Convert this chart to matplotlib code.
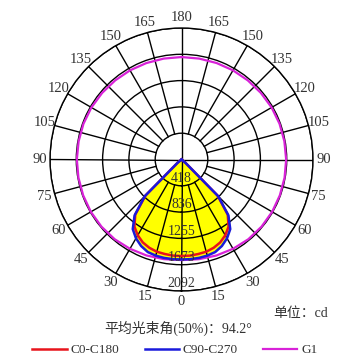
import matplotlib
import matplotlib.pyplot as plt
import numpy as np

matplotlib.use("agg")
plt.rcParams["font.family"] = ["Liberation Serif", "Noto Sans CJK SC"]

# luminous intensity (cd) per gamma angle, symmetric on both halves
gamma_deg = [0, 5, 10, 15, 20, 25, 30, 35, 40, 45, 50, 55, 60, 70, 80, 90]
c0_c180 = [1535, 1535, 1527, 1519, 1495, 1456, 1392, 1305, 1145, 811, 80, 0, 0, 0, 0, 0]
c90_c270 = [1591, 1591, 1590, 1583, 1567, 1519, 1448, 1352, 1161, 827, 80, 0, 0, 0, 0, 0]

g1_gamma = [0, 10, 20, 30, 40, 50, 60, 70, 80, 90, 100, 110, 120, 130, 140, 150, 160, 170, 180]
g1_values = [1600, 1610, 1625, 1640, 1655, 1662, 1665, 1665, 1665, 1665, 1662, 1660,
             1655, 1648, 1642, 1638, 1633, 1630, 1630]

ring_values = [418.4, 836.8, 1255.2, 1673.6, 2092.0]
ring_labels = ["418", "836", "1255", "1673", "2092"]
angle_ticks = [0, 15, 30, 45, 60, 75, 90, 105, 120, 135, 150, 165, 180]

r_max = ring_values[-1]


def mirrored(gamma, values):
    g = np.array(gamma, dtype=float)
    v = np.array(values, dtype=float)
    theta = np.radians(np.concatenate([-g[::-1], g[1:]]))
    r = np.concatenate([v[::-1], v[1:]])
    return theta, r


fig = plt.figure(figsize=(3.6, 3.6), dpi=100)
ax = fig.add_axes([50 / 360, 69 / 360, 263 / 360, 263 / 360], projection="polar")
ax.set_theta_zero_location("S")
ax.set_theta_direction(1)
ax.set_ylim(0, r_max)

ax.set_xticks([])
ax.set_rgrids(ring_values, labels=[""] * len(ring_values))
ax.grid(axis="y", color="black", linewidth=1.0)
ax.set_axisbelow(False)
ax.spines["polar"].set_linewidth(1.0)
ax.spines["polar"].set_color("black")

# spokes every 15 degrees, main axes through the centre
for a in range(0, 360, 15):
    start = 0 if a % 90 == 0 else ring_values[0]
    ax.plot([np.radians(a)] * 2, [start, r_max], color="black", linewidth=1.0, zorder=2)

t_blue, r_blue = mirrored(gamma_deg, c90_c270)
t_red, r_red = mirrored(gamma_deg, c0_c180)
t_g1, r_g1 = mirrored(g1_gamma, g1_values)

ax.fill(t_blue, r_blue, color="#ffff00", zorder=1)
ax.plot(t_red, r_red, color="#e8141c", linewidth=1.8, label="C0-C180", zorder=3)
ax.plot(t_blue, r_blue, color="#1a1adc", linewidth=1.8, label="C90-C270", zorder=3.1)
ax.plot(t_g1, r_g1, color="#d822d8", linewidth=1.6, label="G1", zorder=3)

for value, text in zip(ring_values, ring_labels):
    ax.text(0, value - 115, text, ha="center", va="center", fontsize=10,
            color="#333333", zorder=4)

label_r = r_max * 142 / 131.5
for a in angle_ticks:
    sides = [a] if a in (0, 180) else [a, -a]
    for s in sides:
        ax.text(np.radians(s), label_r, str(a), ha="center", va="center",
                fontsize=10.5, color="#333333", clip_on=False)

fig.text(273 / 360, 1 - 313 / 360, "单位：cd", ha="left", va="center",
         fontsize=10, color="#333333")
fig.text(178 / 360, 1 - 328 / 360, "平均光束角(50%)：94.2°", ha="center",
         va="center", fontsize=10, color="#333333")

fig.legend(loc="center", bbox_to_anchor=(175 / 360, 1 - 350 / 360), ncol=3,
           frameon=False, fontsize=9.5, handlelength=2.6, handletextpad=0.3,
           columnspacing=1.9, labelcolor="#333333")

fig.savefig("out.png", dpi=100)
plt.close(fig)
